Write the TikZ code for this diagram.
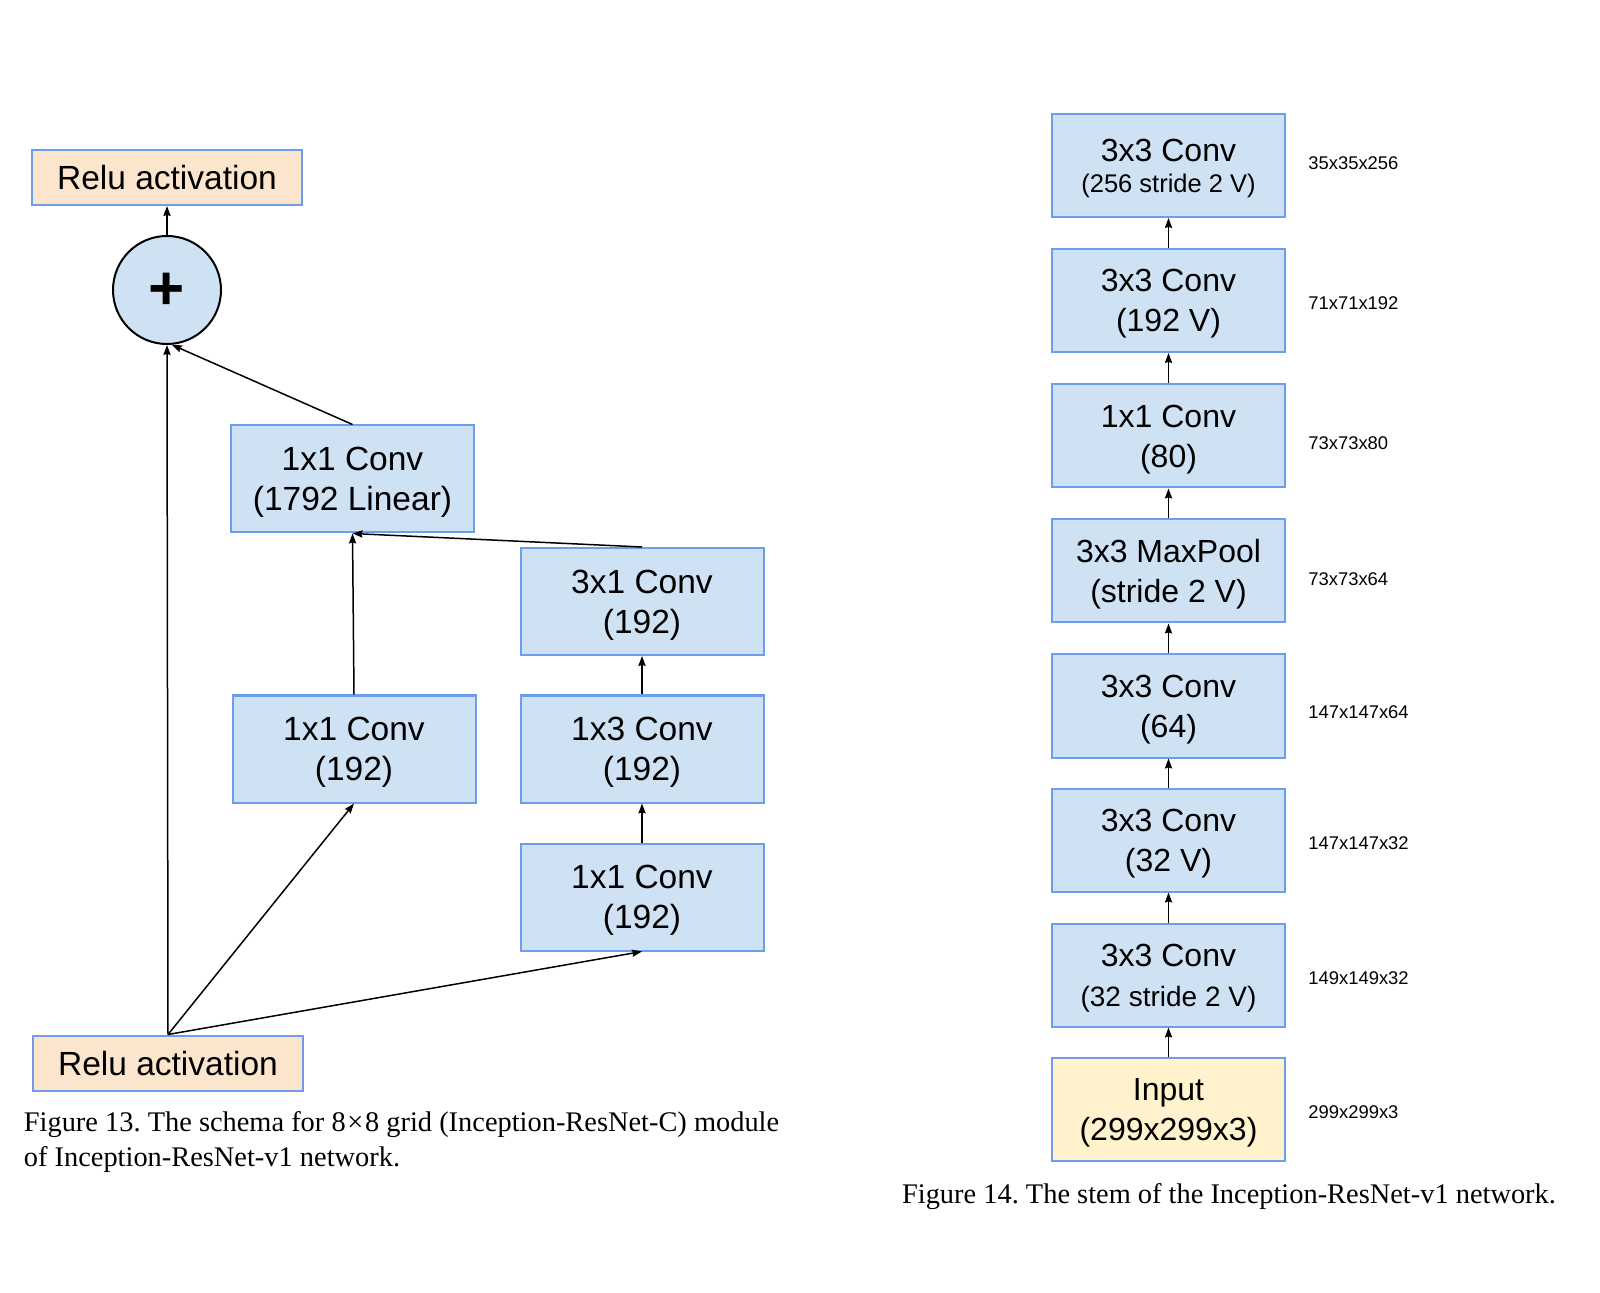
\documentclass[tikz,border=0pt]{standalone}
\usepackage{fontspec}
\setmainfont{Liberation Sans}
\newfontfamily\capfont{Liberation Serif}
\usepackage{xcolor}
\usepackage{tikz}
\usetikzlibrary{arrows.meta,positioning}

\definecolor{boxblue}{HTML}{CFE2F3}
\definecolor{edgeblue}{HTML}{6D9EEB}
\definecolor{reluorange}{HTML}{FCE5CD}
\definecolor{inputyellow}{HTML}{FFF2CC}

\begin{document}
\begin{tikzpicture}[x=0.5pt, y=-0.5pt,
    conv/.style={draw=edgeblue, line width=1pt, fill=boxblue, inner sep=0pt,
                 align=center, minimum width=121.5pt, minimum height=53.5pt,
                 text depth=0pt, font=\fontsize{16.75}{20}\selectfont},
    relu/.style={conv, fill=reluorange, minimum width=135pt, minimum height=27.5pt},
    stem/.style={conv, minimum width=116.5pt, minimum height=51.5pt,
                 font=\fontsize{16}{20}\selectfont},
    inp/.style={stem, fill=inputyellow},
    sum/.style={circle, draw, line width=1pt, fill=boxblue, inner sep=0pt,
                minimum size=54pt, font=\fontsize{31}{31}\selectfont\bfseries},
    dim/.style={anchor=west, inner sep=0pt, font=\fontsize{9.2}{11}\selectfont},
    figcap/.style={anchor=base west, inner sep=0pt,
                   font=\capfont\fontsize{14.2}{17.5}\selectfont\frenchspacing},
    arr/.style={-{Stealth[length=5pt, width=3.6pt, inset=0.6pt]}, line width=0.75pt},
  ]
    \useasboundingbox (0,0) rectangle (1600,1293);

    % Figure 13: Inception-ResNet-C
    \node[relu] (reluTop) at (167,177.5)  {Relu activation};
    \node[sum]  (add)     at (167,290)    {\raisebox{-10pt}[0pt][0pt]{+}};
    \node[conv] (lin)     at (352.5,479)  {1x1 Conv\\(1792 Linear)};
    \node[conv] (c31)     at (642,601.5)  {3x1 Conv\\(192)};
    \node[conv] (c11a)    at (354,749)    {1x1 Conv\\(192)};
    \node[conv] (c13)     at (642,749)    {1x3 Conv\\(192)};
    \node[conv] (c11b)    at (642,897)    {1x1 Conv\\(192)};
    \node[relu] (reluBot) at (168,1063)   {Relu activation};

    % shortcut and branches
    \draw[arr] (reluBot.north) -- (add.south);
    \draw[arr] (reluBot.north) -- (c11a.south);
    \draw[arr] (reluBot.north) -- (c11b.south);
    \draw[arr] (c11b) -- (c13);
    \draw[arr] (c13) -- (c31);
    \draw[arr] (c11a.north) -- (lin.south);
    \draw[arr] (c31.north) -- (lin.south);
    \draw[arr] (lin.north) -- (add.-85);
    \draw[arr] (add) -- (reluTop);

    \node[figcap] (cap13) at (23.5,1131.7)
      {Figure 13. The schema for 8\kern0.06em×\kern0.06em8 grid (Inception-ResNet-C) module};
    \node[figcap] (cap13b) at (23.5,1166.7) {of Inception-ResNet-v1 network.};

    % Figure 14: stem
    \node[stem] (c256)  at (1168.5,165.5)
      {3x3 Conv\\[-4.4pt]{\fontsize{12.75}{16}\selectfont (256 stride 2 V)}};
    \node[stem] (c192)  at (1168.5,300.5) {3x3 Conv\\(192 V)};
    \node[stem] (c80)   at (1168.5,436)   {1x1 Conv\\(80)};
    \node[stem] (pool)  at (1168.5,571)   {3x3 MaxPool\\(stride 2 V)};
    \node[stem] (c64)   at (1168.5,706)   {3x3 Conv\\(64)};
    \node[stem] (c32v)  at (1168.5,840)   {3x3 Conv\\(32 V)};
    \node[stem] (c32s)  at (1168.5,975)
      {3x3 Conv\\{\fontsize{14}{18}\selectfont (32 stride 2 V)}};
    \node[inp]  (input) at (1168.5,1109.5) {Input\\(299x299x3)};

    \draw[arr] (input) -- (c32s);
    \draw[arr] (c32s) -- (c32v);
    \draw[arr] (c32v) -- (c64);
    \draw[arr] (c64) -- (pool);
    \draw[arr] (pool) -- (c80);
    \draw[arr] (c80) -- (c192);
    \draw[arr] (c192) -- (c256);

    \node[dim] (d256)  at (1308,163.3)  {35x35x256};
    \node[dim] (d192)  at (1308,303.3)  {71x71x192};
    \node[dim] (d80)   at (1308,443)    {73x73x80};
    \node[dim] (dpool) at (1308,579)    {73x73x64};
    \node[dim] (d64)   at (1308,712.3)  {147x147x64};
    \node[dim] (d32v)  at (1308,843)    {147x147x32};
    \node[dim] (d32s)  at (1308,977.7)  {149x149x32};
    \node[dim] (dinp)  at (1308,1112.3) {299x299x3};

    \node[figcap, anchor=base] (cap14) at (1229,1203)
      {Figure 14. The stem of the Inception-ResNet-v1 network.};
\end{tikzpicture}
\end{document}
